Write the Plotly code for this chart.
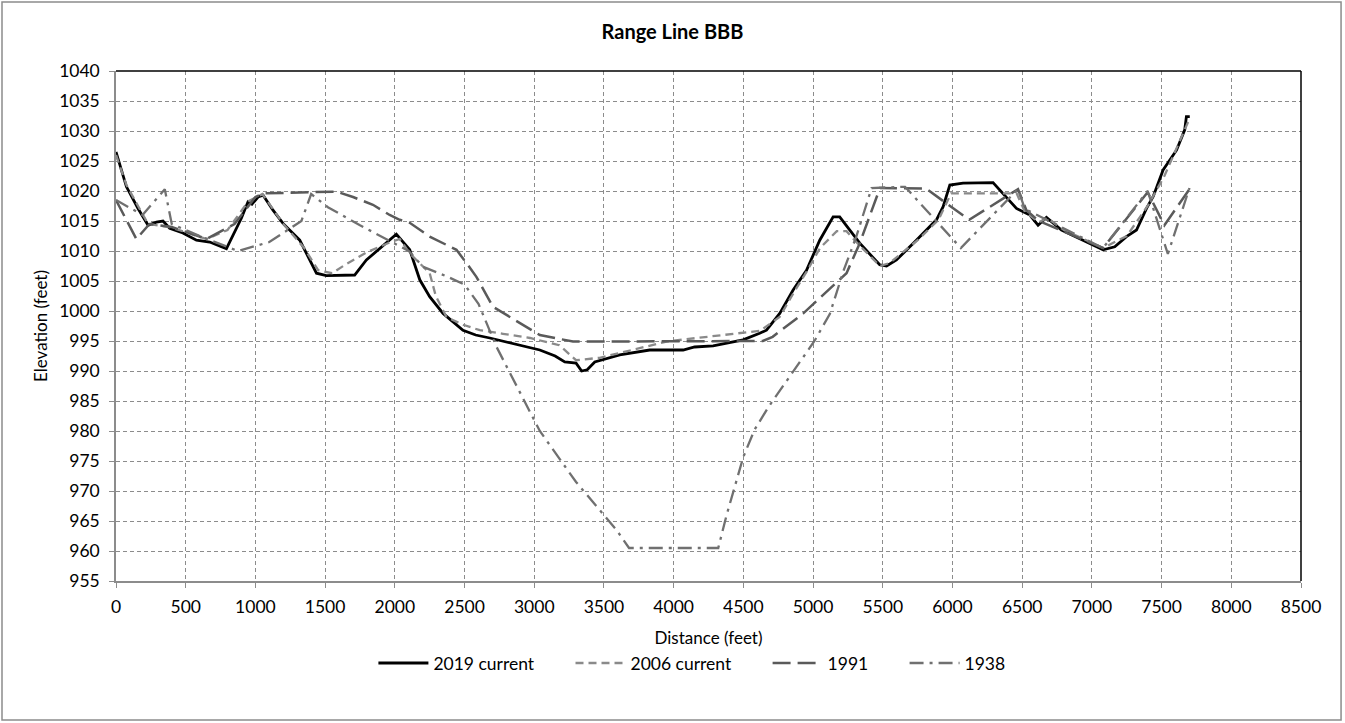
import plotly.graph_objects as go

# Survey profiles along range line BBB: distance (ft) and elevation (ft)
dist_2019 = [0, 75, 160, 230, 290, 337, 385, 480, 577, 672, 792, 900, 947, 975, 1019, 1055,
             1126, 1198, 1318, 1438, 1509, 1600, 1712, 1796, 1940, 2011, 2107, 2179, 2250,
             2346, 2489, 2580, 2681, 2860, 3040, 3150, 3219, 3300, 3340, 3380, 3434, 3613,
             3828, 4068, 4150, 4283, 4498, 4617, 4666, 4761, 4857, 4953, 5048, 5144, 5191,
             5335, 5478, 5527, 5598, 5741, 5885, 5933, 5981, 6076, 6291, 6459, 6555, 6614,
             6674, 6782, 6937, 7080, 7164, 7248, 7320, 7392, 7440, 7511, 7607, 7666, 7678, 7702]
elev_2019 = [1026.5, 1020.7, 1017.0, 1014.3, 1014.8, 1015.0, 1013.8, 1013.0, 1011.8, 1011.5,
             1010.4, 1015.5, 1018.2, 1017.8, 1019.0, 1019.3, 1016.8, 1014.6, 1011.8, 1006.3,
             1005.9, 1006.0, 1006.0, 1008.5, 1011.3, 1012.8, 1010.2, 1005.2, 1002.4, 999.6,
             996.8, 996.0, 995.5, 994.5, 993.5, 992.5, 991.5, 991.3, 990.0, 990.2, 991.5,
             992.7, 993.5, 993.5, 994.0, 994.2, 995.2, 996.3, 996.8, 999.6, 1003.5, 1006.8,
             1011.8, 1015.7, 1015.7, 1011.3, 1007.7, 1007.5, 1008.5, 1011.8, 1015.2, 1017.4,
             1021.0, 1021.3, 1021.4, 1017.1, 1016.0, 1014.3, 1015.6, 1013.5, 1011.8, 1010.2,
             1010.7, 1012.4, 1013.5, 1017.1, 1019.1, 1023.5, 1026.8, 1030.2, 1032.4, 1032.4]

dist_2006 = [0, 75, 230, 385, 650, 800, 950, 1050, 1200, 1350, 1450, 1550, 1650, 1800, 1950,
             2035, 2107, 2250, 2294, 2370, 2490, 2610, 2775, 2970, 3180, 3300, 3470, 3760,
             3950, 4090, 4260, 4430, 4620, 4700, 4760, 4860, 4960, 5050, 5170, 5240, 5330,
             5480, 5550, 5750, 5900, 5990, 6460, 6520, 6620, 6680, 6800, 7080, 7250, 7400,
             7520, 7690]
elev_2006 = [1026.0, 1021.0, 1014.5, 1014.0, 1012.0, 1013.5, 1018.3, 1019.5, 1014.5, 1010.5,
             1006.8, 1006.3, 1007.8, 1009.8, 1011.3, 1012.0, 1009.6, 1006.3, 1002.5, 999.0,
             997.7, 996.8, 996.2, 995.5, 994.3, 991.8, 992.2, 993.9, 994.9, 995.3, 995.8,
             996.2, 996.7, 998.0, 999.0, 1003.0, 1006.8, 1010.5, 1013.3, 1013.3, 1011.0,
             1007.5, 1008.0, 1011.8, 1015.2, 1019.6, 1019.6, 1016.5, 1014.8, 1015.5, 1013.5,
             1010.5, 1012.5, 1017.5, 1022.5, 1031.5]

dist_1991 = [0, 146, 240, 400, 650, 850, 1000, 1060, 1580, 1700, 1843, 1963, 2035, 2107,
             2250, 2442, 2514, 2585, 2704, 2896, 3040, 3278, 4640, 4710, 4930, 5240, 5335,
             5480, 5810, 6120, 6470, 6530, 6620, 7080, 7400, 7520, 7700]
elev_1991 = [1018.5, 1012.0, 1014.5, 1014.0, 1012.0, 1014.5, 1019.0, 1019.6, 1019.9, 1019.0,
             1017.7, 1016.0, 1015.2, 1014.7, 1012.4, 1010.2, 1008.0, 1005.7, 1000.7, 998.0,
             996.0, 994.9, 995.0, 995.7, 999.6, 1006.3, 1011.3, 1020.5, 1020.4, 1015.2,
             1020.3, 1016.8, 1015.0, 1010.5, 1019.8, 1014.3, 1020.3]

dist_1938 = [0, 190, 350, 400, 600, 875, 1100, 1330, 1400, 1520, 1750, 2011, 2100, 2200,
             2370, 2500, 2600, 2730, 3040, 3300, 3450, 3590, 3680, 4320, 4380, 4500, 4580,
             4680, 5010, 5120, 5220, 5310, 5420, 5660, 6060, 6470, 6520, 7080, 7400, 7545, 7700]
elev_1938 = [1018.5, 1016.0, 1020.3, 1014.5, 1012.5, 1010.0, 1011.5, 1015.0, 1019.5, 1017.3,
             1014.3, 1011.0, 1010.0, 1007.4, 1005.8, 1004.4, 1001.2, 994.0, 980.0, 971.5,
             967.3, 963.5, 960.5, 960.5, 966.0, 975.7, 980.2, 984.0, 995.0, 999.5, 1006.8,
             1012.4, 1020.5, 1020.7, 1010.5, 1020.3, 1017.0, 1010.5, 1020.0, 1009.5, 1020.5]

series_names = ["2019 current", "2006 current", "1991", "1938"]

x_ticks = list(range(0, 8501, 500))
y_ticks = list(range(955, 1041, 5))

FONT = "Lato, 'Open Sans', sans-serif"
GRID = "#8c8c8c"
PAD = "\u00a0" * 7  # extra room between legend entries

fig = go.Figure()
fig.add_trace(go.Scatter(x=dist_2019, y=elev_2019, mode="lines", name=series_names[0] + PAD,
                         line=dict(color="#000000", width=2.8)))
fig.add_trace(go.Scatter(x=dist_2006, y=elev_2006, mode="lines", name=series_names[1] + PAD,
                         line=dict(color="#8a8a8a", width=2.3, dash="8px,5px")))
fig.add_trace(go.Scatter(x=dist_1991, y=elev_1991, mode="lines", name=series_names[2] + PAD,
                         line=dict(color="#5a5a5a", width=2.5, dash="18px,7px")))
fig.add_trace(go.Scatter(x=dist_1938, y=elev_1938, mode="lines", name=series_names[3],
                         line=dict(color="#707070", width=2.3, dash="14px,6px,3px,6px")))

fig.update_layout(
    width=1345, height=723,
    paper_bgcolor="white", plot_bgcolor="white",
    margin=dict(l=116, r=44, t=71, b=142),
    font=dict(family=FONT, size=17, color="#262626"),
    title=dict(text="<b>Range Line BBB</b>", x=0.5, xref="container", xanchor="center",
               y=1 - 32 / 723, yref="container", yanchor="middle",
               font=dict(family=FONT, size=20, color="#000000")),
    showlegend=True,
    legend=dict(orientation="h", x=0.486, xanchor="center",
                y=-0.161, yanchor="middle",
                font=dict(family=FONT, size=17.5, color="#000000"),
                itemwidth=50, tracegroupgap=0, bgcolor="rgba(0,0,0,0)"),
)

fig.update_xaxes(
    range=[0, 8500], tickvals=x_ticks, ticktext=[str(v) for v in x_ticks],
    showgrid=True, gridcolor=GRID, griddash="4px,3px", gridwidth=1,
    showline=True, linecolor="#8c8c8c", linewidth=1.5,
    ticks="outside", ticklen=5, tickcolor="#8c8c8c", ticklabelstandoff=4,
    zeroline=False,
    title=dict(text="Distance (feet)", standoff=16, font=dict(family=FONT, size=17, color="#000000")),
    tickfont=dict(family=FONT, size=17.5, color="#000000"),
)
fig.update_yaxes(
    range=[955, 1040], tickvals=y_ticks, ticktext=[str(v) for v in y_ticks],
    showgrid=True, gridcolor=GRID, griddash="4px,3px", gridwidth=1,
    showline=True, linecolor="#8c8c8c", linewidth=1.5,
    ticks="outside", ticklen=5, tickcolor="#8c8c8c", ticklabelstandoff=6,
    zeroline=False,
    title=dict(text="Elevation (feet)", standoff=7, font=dict(family=FONT, size=17, color="#000000")),
    tickfont=dict(family=FONT, size=17.5, color="#000000"),
)

# Plot-area border (top and right edges) and the outer chart frame
fig.add_shape(type="line", xref="paper", yref="paper", x0=0, x1=1, y0=1, y1=1,
              line=dict(color="#000000", width=1.5))
fig.add_shape(type="line", xref="paper", yref="paper", x0=1, x1=1, y0=0, y1=1,
              line=dict(color="#000000", width=1.5))
fig.add_shape(type="rect", xref="paper", yref="paper",
              x0=-0.0962, x1=1.0338, y0=-0.2725, y1=1.1353,
              line=dict(color="#8c8c8c", width=1.5), layer="below")

fig.write_html("out.html")
